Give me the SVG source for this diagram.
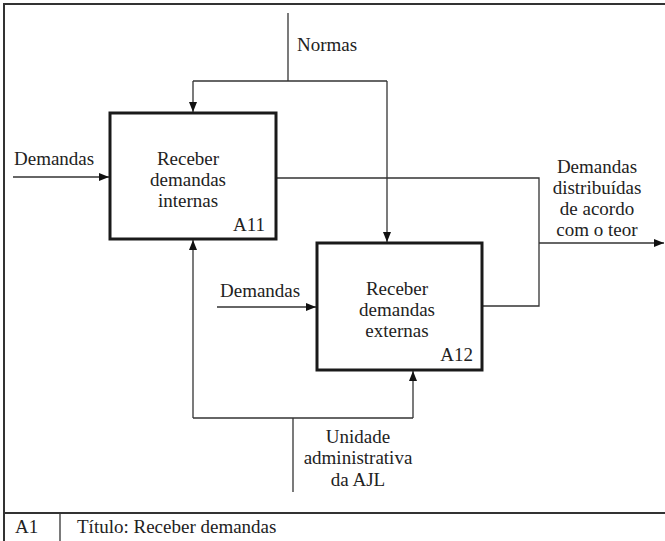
<svg xmlns="http://www.w3.org/2000/svg" width="665" height="541" viewBox="0 0 665 541">
<style>
text{font-family:'Liberation Serif','DejaVu Serif',serif;font-size:19px;fill:#222}
.c{text-anchor:middle}
.e{text-anchor:end}
.box{fill:#fff;stroke:#1a1a1a;stroke-width:3}
.ln{fill:none;stroke:#333;stroke-width:1.3}
.fr{fill:none;stroke:#333;stroke-width:2}
</style>
<defs>
<marker id="ah" viewBox="0 0 10 8" refX="10" refY="4" markerWidth="10" markerHeight="8" markerUnits="userSpaceOnUse" orient="auto">
<path d="M0,0L10,4L0,8z" fill="#111"/>
</marker>
</defs>
<rect width="665" height="541" fill="#fff"/>
<g font-family="'Liberation Serif','DejaVu Serif',serif" font-size="19">
<g id="frame">
<rect class="fr" x="4" y="4" width="680" height="580"/>
<line class="fr" x1="4" y1="513" x2="665" y2="513"/>
<line class="ln" x1="60" y1="513" x2="60" y2="541"/>
<text x="15" y="533">A1</text>
<text x="77" y="533">Título: Receber demandas</text>
</g>
<g id="connectors">
<path class="ln" d="M288,13V81"/>
<path class="ln" d="M193,81H387"/>
<path class="ln" d="M193,81V112" marker-end="url(#ah)"/>
<path class="ln" d="M387,81V242" marker-end="url(#ah)"/>
<path class="ln" d="M13,177H109" marker-end="url(#ah)"/>
<path class="ln" d="M217,307H316" marker-end="url(#ah)"/>
<path class="ln" d="M276,178H539V306H482"/>
<path class="ln" d="M539,243H664" marker-end="url(#ah)"/>
<path class="ln" d="M193,418H413"/>
<path class="ln" d="M193,418V240" marker-end="url(#ah)"/>
<path class="ln" d="M413,418V371" marker-end="url(#ah)"/>
<path class="ln" d="M293,418V492"/>
<text x="297" y="51">Normas</text>
<text x="14" y="165">Demandas</text>
<text x="220" y="297">Demandas</text>
<text class="c" x="597" y="173">Demandas</text>
<text class="c" x="597" y="194">distribuídas</text>
<text class="c" x="597" y="215">de acordo</text>
<text class="c" x="597" y="236">com o teor</text>
<text class="c" x="358" y="443">Unidade</text>
<text class="c" x="358" y="464">administrativa</text>
<text class="c" x="358" y="486">da AJL</text>
</g>
<g id="A11">
<rect class="box" x="110" y="113" width="166" height="126"/>
<text class="c" x="188" y="165">Receber</text>
<text class="c" x="188" y="186">demandas</text>
<text class="c" x="188" y="207">internas</text>
<text class="e" x="265" y="231">A11</text>
</g>
<g id="A12">
<rect class="box" x="317" y="243" width="165" height="127"/>
<text class="c" x="397" y="295">Receber</text>
<text class="c" x="397" y="316">demandas</text>
<text class="c" x="397" y="337">externas</text>
<text class="e" x="473" y="361">A12</text>
</g>
</g>
</svg>
